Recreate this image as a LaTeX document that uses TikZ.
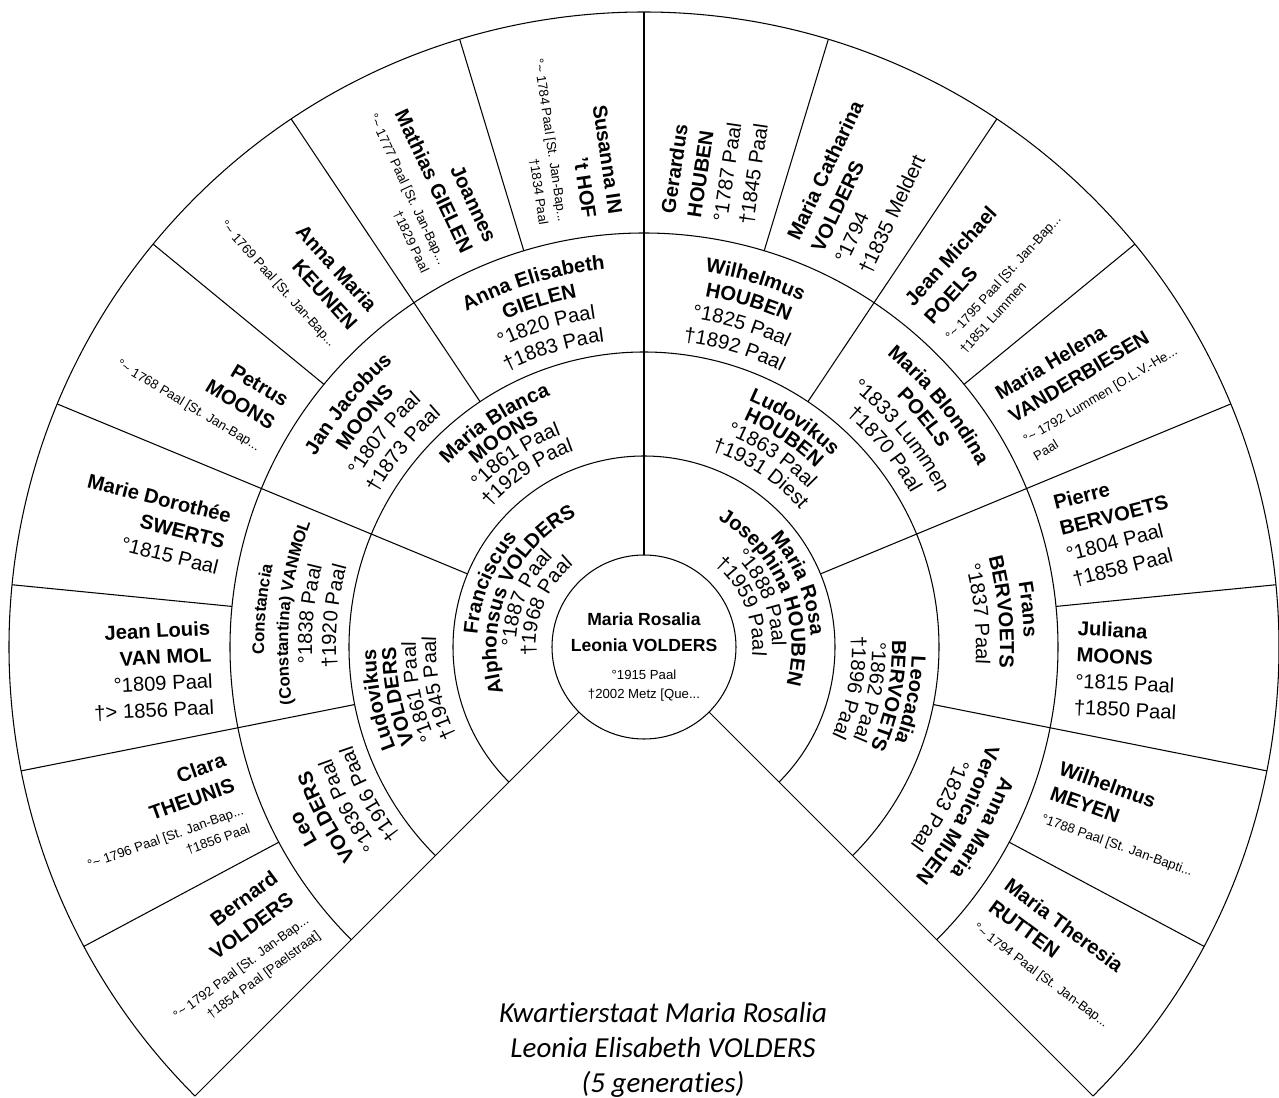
\documentclass[tikz,border=0pt]{standalone}
\usepackage{fontspec}
\setmainfont{Liberation Sans}
\newfontfamily\captionfont[Ligatures=NoCommon]{Carlito}
\usetikzlibrary{decorations.text}

\newcommand{\nmfont}{\fontsize{11.5}{15}\selectfont\bfseries}
\newcommand{\nmsmall}{\fontsize{9.5}{12}\selectfont\bfseries}
\newcommand{\dtfont}{\fontsize{11.5}{15}\selectfont}
\newcommand{\sdat}[1]{{\fontsize{7.5}{9}\selectfont #1}}
% one line of text bent along a ring: radius, centre angle, font, text
\newcommand{\arcline}[4]{%
  \path[decorate, decoration={text along path, text align=center, text={|#3|#4}}]
    ({#2+50}:#1) arc[start angle={#2+50}, end angle={#2-50}, radius=#1];}

\begin{document}
\begin{tikzpicture}[line width=0.6pt]
  \tikzset{
    outl/.style={anchor=east, align=right, inner sep=0pt, font=\dtfont},
    outr/.style={anchor=west, align=left, inner sep=0pt, font=\dtfont},
    rootbox/.style={align=center, inner sep=0pt, font=\fontsize{10}{14.5}\selectfont\bfseries},
    titlebox/.style={align=center, inner sep=0pt, font=\captionfont\itshape\fontsize{16.5}{20}\selectfont},
  }
  \useasboundingbox (-12.88,-9.0) rectangle (12.70,12.94);

  % rings
  \draw (0,0) circle[radius=1.84];
  \draw (225:3.82) arc[start angle=225, end angle=-45, radius=3.82];
  \draw (225:5.9) arc[start angle=225, end angle=-45, radius=5.9];
  \draw (225:8.28) arc[start angle=225, end angle=-45, radius=8.28];
  \draw (225:12.7) arc[start angle=225, end angle=-45, radius=12.7];

  % spokes
  \draw (225:1.84) -- (225:12.7);
  \draw (-45:1.84) -- (-45:12.7);
  \draw (90:1.84) -- (90:12.7);
  \draw (157.5:3.82) -- (157.5:12.7);
  \draw (22.5:3.82) -- (22.5:12.7);
  \foreach \a in {191.25,123.75,56.25,-11.25}
    \draw (\a:5.9) -- (\a:12.7);
  \foreach \a in {208.125,174.375,140.625,106.875,73.125,39.375,5.625,-28.125}
    \draw (\a:8.28) -- (\a:12.7);

  % centre
  \node[rootbox] (root) at (0,-0.2) {Maria Rosalia\\Leonia VOLDERS\\[1.5pt]
    \mdseries\sdat{°1915 Paal}\\[-3.5pt]\mdseries\sdat{†2002 Metz [Que...}};

  % parents
  \arcline{3.34}{157.5}{\nmfont}{Franciscus}
  \arcline{2.95}{157.5}{\nmfont}{Alphonsus VOLDERS}
  \arcline{2.56}{157.5}{\dtfont}{°1887 Paal}
  \arcline{2.17}{157.5}{\dtfont}{†1968 Paal}
  \arcline{3.34}{22.5}{\nmfont}{Maria Rosa}
  \arcline{2.95}{22.5}{\nmfont}{Josephina HOUBEN}
  \arcline{2.56}{22.5}{\dtfont}{°1888 Paal}
  \arcline{2.17}{22.5}{\dtfont}{†1959 Paal}

  % grandparents
  \arcline{5.36}{191.25}{\nmfont}{Ludovikus}
  \arcline{4.96}{191.25}{\nmfont}{VOLDERS}
  \arcline{4.56}{191.25}{\dtfont}{°1861 Paal}
  \arcline{4.16}{191.25}{\dtfont}{†1945 Paal}
  \arcline{5.36}{123.75}{\nmfont}{Maria Blanca}
  \arcline{4.96}{123.75}{\nmfont}{MOONS}
  \arcline{4.56}{123.75}{\dtfont}{°1861 Paal}
  \arcline{4.16}{123.75}{\dtfont}{†1929 Paal}
  \arcline{5.36}{56.25}{\nmfont}{Ludovikus}
  \arcline{4.96}{56.25}{\nmfont}{HOUBEN}
  \arcline{4.56}{56.25}{\dtfont}{°1863 Paal}
  \arcline{4.16}{56.25}{\dtfont}{†1931 Diest}
  \arcline{5.36}{-11.25}{\nmfont}{Leocadia}
  \arcline{4.96}{-11.25}{\nmfont}{BERVOETS}
  \arcline{4.56}{-11.25}{\dtfont}{°1862 Paal}
  \arcline{4.16}{-11.25}{\dtfont}{†1896 Paal}

  % great-grandparents
  \arcline{7.6}{208.125}{\nmfont}{Leo}
  \arcline{7.12}{208.125}{\nmfont}{VOLDERS}
  \arcline{6.64}{208.125}{\dtfont}{°1836 Paal}
  \arcline{6.16}{208.125}{\dtfont}{†1916 Paal}
  \arcline{7.6}{174.375}{\nmsmall}{Constancia}
  \arcline{7.12}{174.375}{\nmsmall}{(Constantina) VANMOL}
  \arcline{6.64}{174.375}{\dtfont}{°1838 Paal}
  \arcline{6.16}{174.375}{\dtfont}{†1920 Paal}
  \arcline{7.6}{140.625}{\nmfont}{Jan Jacobus}
  \arcline{7.12}{140.625}{\nmfont}{MOONS}
  \arcline{6.64}{140.625}{\dtfont}{°1807 Paal}
  \arcline{6.16}{140.625}{\dtfont}{†1873 Paal}
  \arcline{7.6}{106.875}{\nmfont}{Anna Elisabeth}
  \arcline{7.12}{106.875}{\nmfont}{GIELEN}
  \arcline{6.64}{106.875}{\dtfont}{°1820 Paal}
  \arcline{6.16}{106.875}{\dtfont}{†1883 Paal}
  \arcline{7.6}{73.125}{\nmfont}{Wilhelmus}
  \arcline{7.12}{73.125}{\nmfont}{HOUBEN}
  \arcline{6.64}{73.125}{\dtfont}{°1825 Paal}
  \arcline{6.16}{73.125}{\dtfont}{†1892 Paal}
  \arcline{7.6}{39.375}{\nmfont}{Maria Blondina}
  \arcline{7.12}{39.375}{\nmfont}{POELS}
  \arcline{6.64}{39.375}{\dtfont}{°1833 Lummen}
  \arcline{6.16}{39.375}{\dtfont}{†1870 Paal}
  \arcline{7.6}{5.625}{\nmfont}{Frans}
  \arcline{7.12}{5.625}{\nmfont}{BERVOETS}
  \arcline{6.64}{5.625}{\dtfont}{°1837 Paal}
  \arcline{7.6}{-28.125}{\nmfont}{Anna Maria}
  \arcline{7.12}{-28.125}{\nmfont}{Veronica MIJEN}
  \arcline{6.64}{-28.125}{\dtfont}{°1823 Paal}

  % great-great-grandparents, left half
  \node[outl, rotate=36.5625] (bernard) at (216.5625:8.64) {\textbf{Bernard}\\\textbf{VOLDERS}\\[-1pt]
    \sdat{°\textasciitilde{} 1792 Paal [St. Jan-Bap...}\\[-4pt]\sdat{†1854 Paal [Paelstraat]}};
  \node[outl, rotate=19.6875] (clara) at (199.6875:8.64) {\textbf{Clara}\\\textbf{THEUNIS}\\[-1pt]
    \sdat{°\textasciitilde{} 1796 Paal [St. Jan-Bap...}\\[-4pt]\sdat{†1856 Paal}};
  \node[outl, rotate=2.8125] (jeanlouis) at (182.8125:8.64) {\textbf{Jean Louis}\\\textbf{VAN MOL}\\
    °1809 Paal\\†> 1856 Paal};
  \node[outl, rotate=-14.0625] (dorothee) at (165.9375:8.64) {\textbf{Marie Dorothée}\\\textbf{SWERTS}\\
    °1815 Paal};
  \node[outl, rotate=-30.9375] (petrus) at (149.0625:8.64) {\textbf{Petrus}\\\textbf{MOONS}\\[-1pt]
    \sdat{°\textasciitilde{} 1768 Paal [St. Jan-Bap...}};
  \node[outl, rotate=-47.8125] (keunen) at (132.1875:8.64) {\textbf{Anna Maria}\\\textbf{KEUNEN}\\[-1pt]
    \sdat{°\textasciitilde{} 1769 Paal [St. Jan-Bap...}};
  \node[outl, rotate=-64.6875] (joannes) at (115.3125:8.64) {\textbf{Joannes}\\\textbf{Mathias GIELEN}\\[-1pt]
    \sdat{°\textasciitilde{} 1777 Paal [St. Jan-Bap...}\\[-4pt]\sdat{†1829 Paal}};
  \node[outl, rotate=-81.5625] (susanna) at (98.4375:8.64) {\textbf{Susanna IN}\\\textbf{'t HOF}\\[-1pt]
    \sdat{°\textasciitilde{} 1784 Paal [St. Jan-Bap...}\\[-4pt]\sdat{†1834 Paal}};

  % great-great-grandparents, right half
  \node[outr, rotate=81.5625] (gerardus) at (81.5625:8.64) {\textbf{Gerardus}\\\textbf{HOUBEN}\\
    °1787 Paal\\†1845 Paal};
  \node[outr, rotate=64.6875] (catharina) at (64.6875:8.64) {\textbf{Maria Catharina}\\\textbf{VOLDERS}\\
    °1794\\†1835 Meldert};
  \node[outr, rotate=47.8125] (michael) at (47.8125:8.64) {\textbf{Jean Michael}\\\textbf{POELS}\\[-1pt]
    \sdat{°\textasciitilde{} 1795 Paal [St. Jan-Bap...}\\[-4pt]\sdat{†1851 Lummen}};
  \node[outr, rotate=30.9375] (helena) at (30.9375:8.64) {\textbf{Maria Helena}\\\textbf{VANDERBIESEN}\\[-1pt]
    \sdat{°\textasciitilde{} 1792 Lummen [O.L.V.-He...}\\[-4pt]\sdat{Paal}};
  \node[outr, rotate=14.0625] (pierre) at (14.0625:8.64) {\textbf{Pierre}\\\textbf{BERVOETS}\\
    °1804 Paal\\†1858 Paal};
  \node[outr, rotate=-2.8125] (juliana) at (-2.8125:8.64) {\textbf{Juliana}\\\textbf{MOONS}\\
    °1815 Paal\\†1850 Paal};
  \node[outr, rotate=-19.6875] (meyen) at (-19.6875:8.64) {\textbf{Wilhelmus}\\\textbf{MEYEN}\\[-1pt]
    \sdat{°1788 Paal [St. Jan-Bapti...}};
  \node[outr, rotate=-36.5625] (rutten) at (-36.5625:8.64) {\textbf{Maria Theresia}\\\textbf{RUTTEN}\\[-1pt]
    \sdat{°\textasciitilde{} 1794 Paal [St. Jan-Bap...}};

  % caption
  \node[titlebox] (title) at (0.38,-8.06) {Kwartierstaat Maria Rosalia\\Leonia Elisabeth VOLDERS\\(5 generaties)};
\end{tikzpicture}
\end{document}
